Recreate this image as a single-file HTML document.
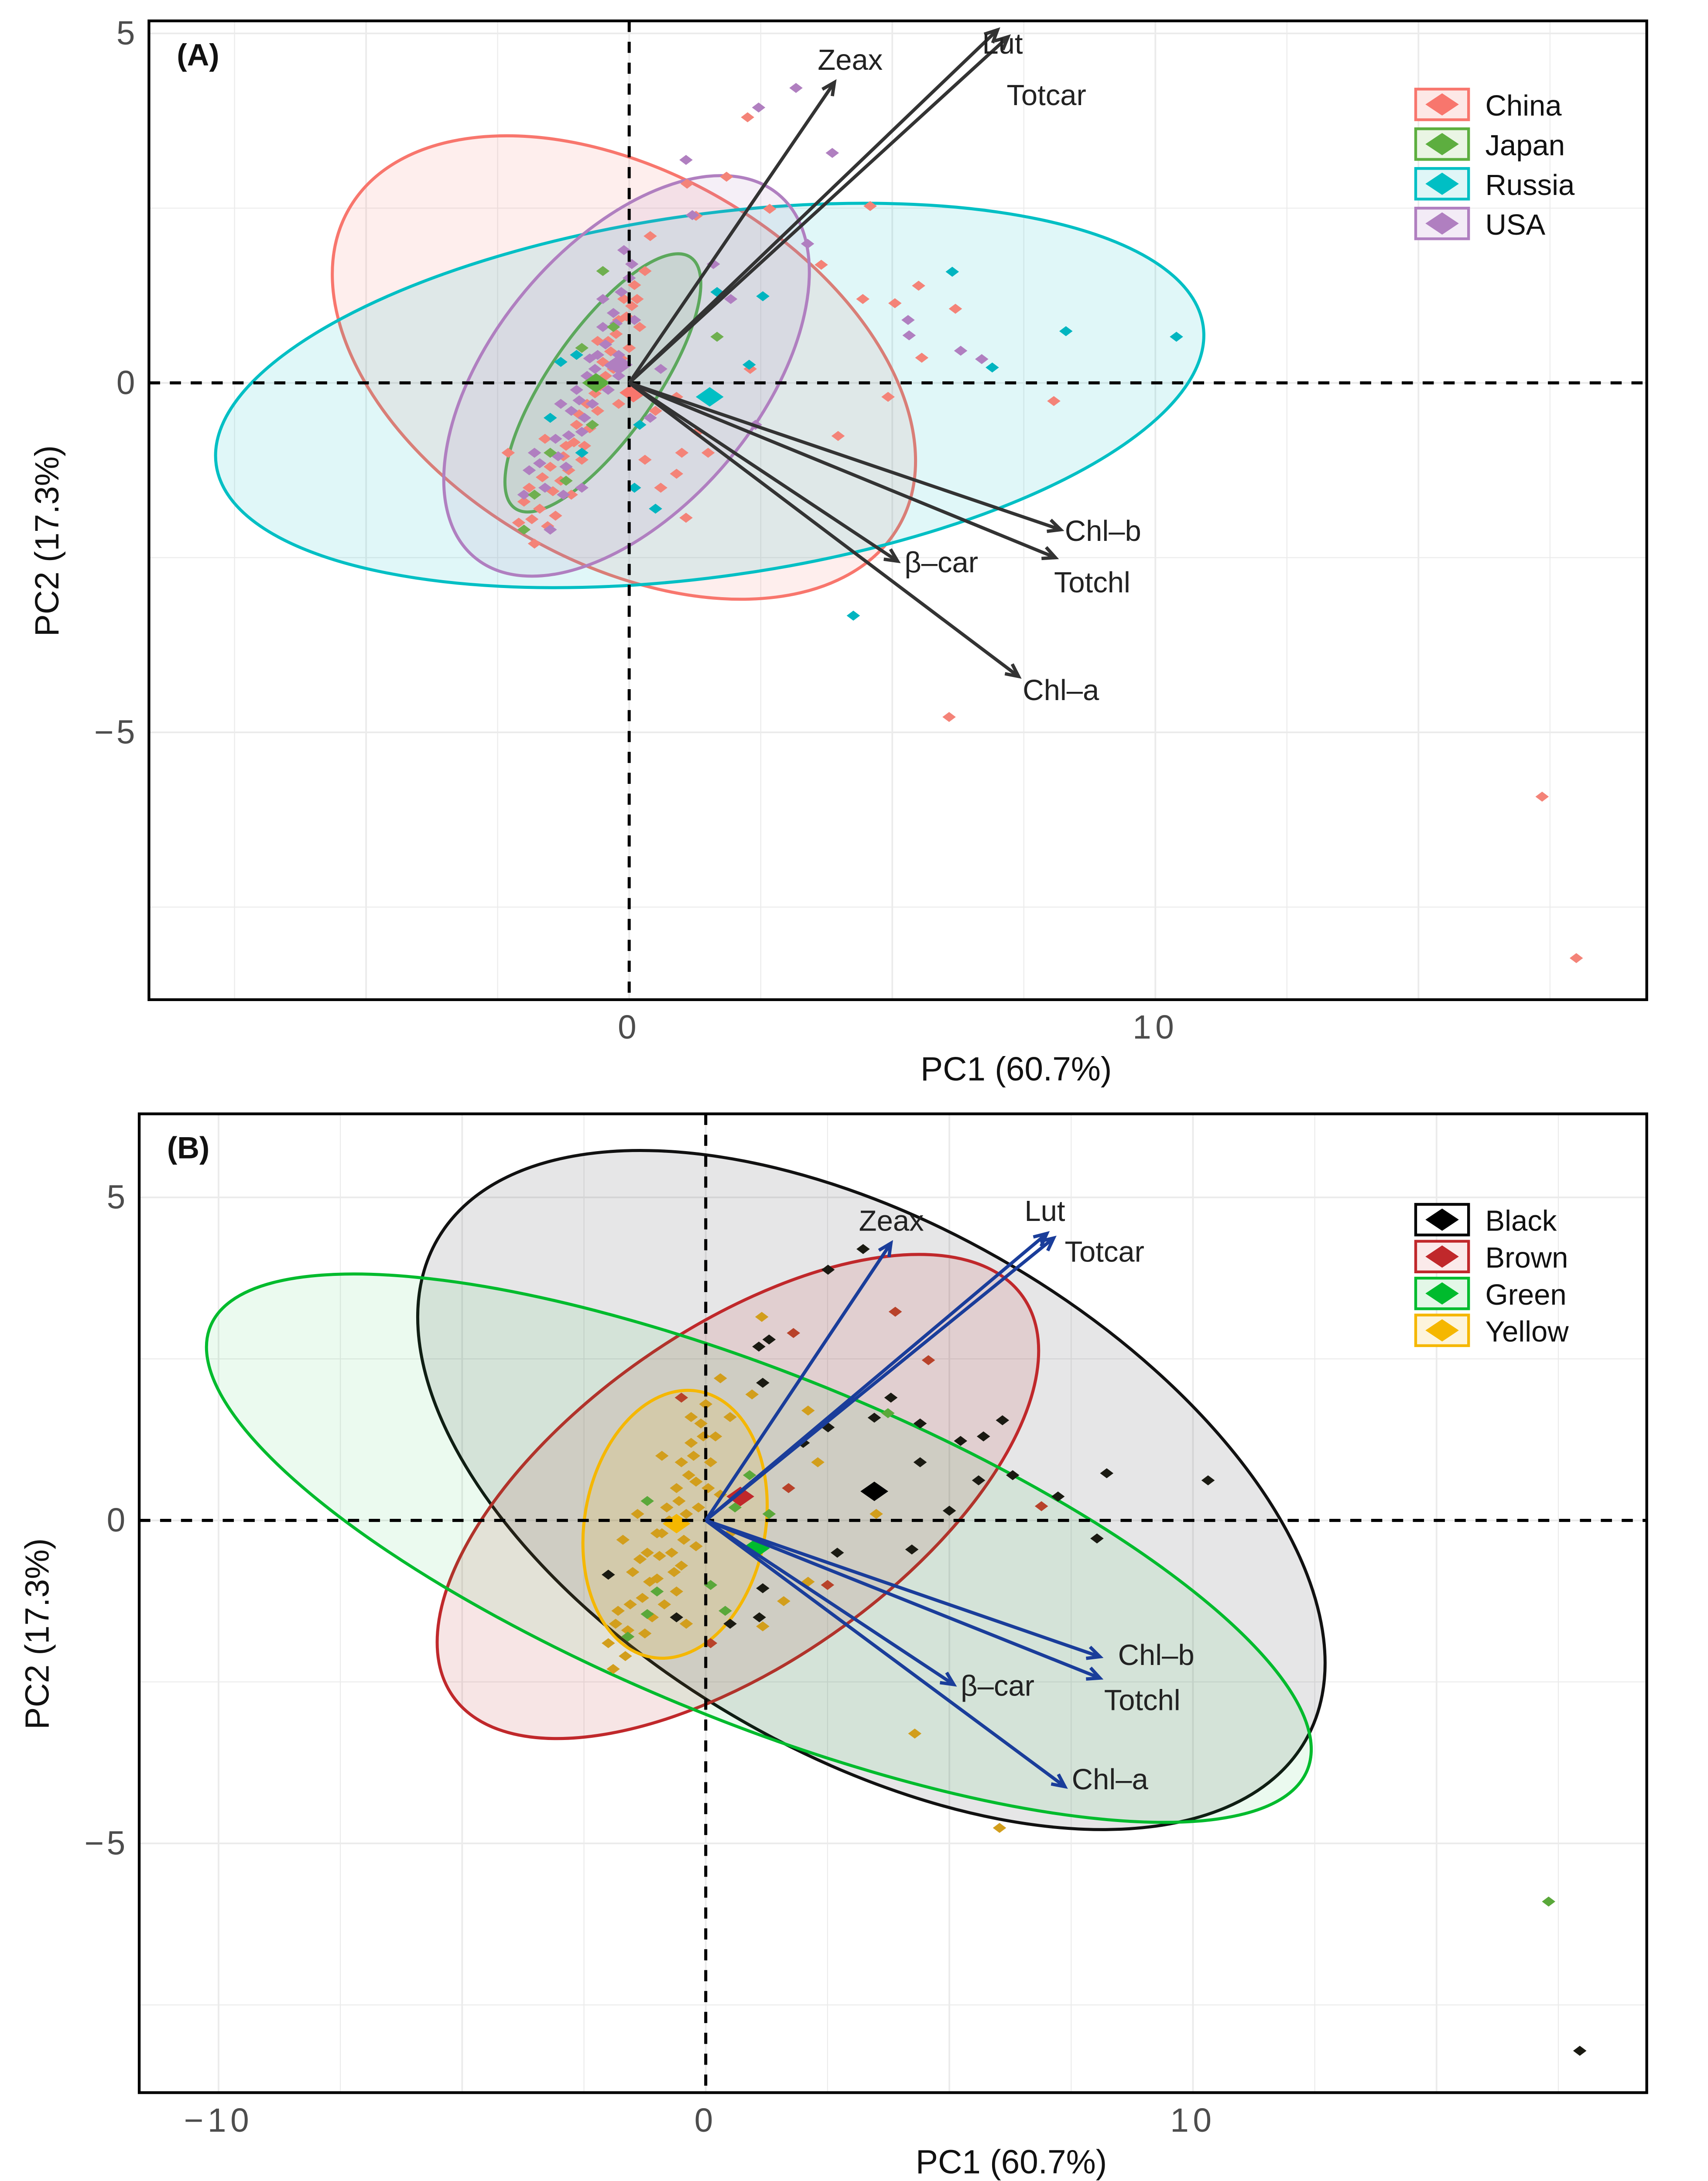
<!DOCTYPE html>
<html><head><meta charset="utf-8"><style>
html,body{margin:0;padding:0;background:#fff;width:3915px;height:5123px;overflow:hidden}
svg{display:block;position:absolute;left:0;top:0}
text{font-family:"Liberation Sans","DejaVu Sans",sans-serif}
</style></head><body>
<svg id="chart" width="3915" height="5123" viewBox="0 0 1227 1605" preserveAspectRatio="none" xmlns="http://www.w3.org/2000/svg">
<rect x="0" y="0" width="1227" height="1605" fill="#fff"/>
</svg>
<script>
// ---------- data ----------
const loadingNames = ["Zeax","Lut","Totcar","Chl–b","Totchl","β–car","Chl–a"];
const loadingPC1A = [3.9, 7.0, 7.2, 8.2, 8.1, 5.1, 7.4];
const loadingPC2A = [4.3, 5.05, 4.95, -2.1, -2.5, -2.55, -4.2];
const loadingPC1B = [3.8, 7.0, 7.14, 8.09, 8.09, 5.09, 7.37];
const loadingPC2B = [4.29, 4.44, 4.37, -2.11, -2.44, -2.54, -4.12];

const groupsA = ["China","Japan","Russia","USA"];
const chinaPts = [[2.25,3.8],[1.85,2.95],[1.1,2.85],[4.58,2.53],[1.27,2.39],[2.67,2.49],[3.65,1.69],[4.44,1.2],[5.5,1.39],[5.05,1.14],[6.2,1.06],[5.56,0.36],[4.92,-0.2],[3.97,-0.76],[8.07,-0.26],[1.08,-1.93],[6.08,-4.78],[17.35,-5.92],[18.0,-8.23],[1.0,-1.0],[1.5,-1.0],[0.9,-1.3],
[-2.1,-2.0],[-1.9,-1.5],[-1.7,-1.8],[-1.5,-1.2],[-1.3,-1.4],[-1.2,-0.9],[-1.0,-0.6],[-0.9,-1.1],[-0.8,-0.3],[-0.7,0.0],[-0.6,-0.4],[-0.5,0.3],[-0.4,0.6],[-0.3,0.2],[-0.2,0.9],[-0.1,1.2],[0.0,0.5],[0.1,1.4],[0.2,0.8],[0.3,1.6],[-1.6,-0.8],[-1.1,-1.6],[-0.6,0.6],[0.5,-0.4],[0.9,-0.2],[0.3,-1.1],[1.3,-0.7],[0.6,-1.5],[-2.3,-1.0],[-1.8,-2.3],[-1.4,-1.9],[-0.2,-0.3],[0.4,2.1],[2.3,0.2],
[-2.0,-1.7],[-1.85,-1.95],[-1.65,-1.35],[-1.45,-1.55],[-1.25,-1.05],[-1.05,-0.85],[-0.95,-0.45],[-0.75,-0.65],[-0.65,-0.15],[-0.45,0.1],[-0.35,0.45],[-0.25,0.7],[-0.05,0.95],[0.05,1.1],[-1.55,-2.05],[-1.15,-1.25],[-0.85,-0.9],[-0.55,-0.05],[-0.15,0.35],[0.15,1.2]];
const japanPts = [[1.67,0.66],[-1.5,-1.0],[-1.8,-1.6],[-0.9,0.5],[-0.7,-0.6],[-1.2,-1.4],[-0.3,0.8],[-2.0,-2.1],[-0.5,1.6]];
const russiaPts = [[8.3,0.74],[10.4,0.66],[6.9,0.22],[6.14,1.59],[4.26,-3.33],[2.28,0.26],[2.54,1.24],[1.67,1.3],[-1.3,0.3],[-0.9,-1.0],[0.2,-0.6],[0.1,-1.5],[-1.0,0.4],[0.5,-1.8],[-1.5,-0.5]];
const usaPts = [[3.17,4.22],[2.46,3.94],[3.86,3.29],[1.08,3.19],[3.39,1.99],[5.32,0.68],[6.3,0.46],[1.93,1.2],[6.7,0.34],[1.2,2.4],[2.4,-0.6],[5.3,0.9],[1.6,1.7],
[-2.0,-1.6],[-1.8,-1.0],[-1.6,-1.5],[-1.4,-0.8],[-1.2,-1.2],[-1.1,-0.4],[-0.9,-0.7],[-0.8,0.1],[-0.7,-0.3],[-0.6,0.4],[-0.5,0.8],[-0.4,-0.1],[-0.3,1.0],[-0.2,0.4],[0.0,1.5],[0.1,0.9],[-0.5,1.2],[-1.0,-0.1],[-1.5,-2.1],[0.4,-0.5],[-0.2,0.1],[0.6,0.2],[-1.3,-0.3],[-0.9,-1.5],[-0.1,1.9],
[-1.9,-1.25],[-1.7,-1.15],[-1.35,-1.05],[-1.15,-0.75],[-0.95,-0.25],[-0.85,-0.5],[-0.65,0.2],[-0.45,0.55],[-0.25,0.85],[-0.15,1.3],[0.05,1.7],[-1.25,-1.6],[-0.75,0.35],[-0.35,0.25]];
const bigA = [[0.08,-0.14,"#F8766D"],[-0.2,0.26,"#B07FC0"],[-0.63,0.0,"#5DAE3F"],[1.53,-0.2,"#00BFC4"]];

const groupsB = ["Black","Brown","Green","Yellow"];
const blackPts = [[3.23,4.2],[2.51,3.88],[1.09,2.69],[1.17,2.13],[2.51,1.44],[3.46,1.59],[4.4,1.5],[5.23,1.23],[6.09,1.55],[5.6,0.62],[4.4,0.9],[5.0,0.15],[8.23,0.73],[10.31,0.62],[7.23,0.37],[8.03,-0.28],[4.23,-0.45],[2.7,-0.5],[1.17,-1.05],[1.1,-1.5],[-2.0,-0.84],[17.94,-8.21],[5.7,1.3],[2.0,1.2],[3.8,1.9],[-0.6,-1.5],[0.5,-1.6],[6.3,0.7],[1.3,2.8]];
const brownPts = [[3.89,3.23],[4.57,2.48],[6.89,0.22],[1.8,2.9],[0.1,-1.9],[1.7,0.5],[-0.5,1.9],[2.5,-1.0]];
const greenPts = [[17.3,-5.9],[3.74,1.66],[-1.2,0.3],[-1.0,-1.1],[0.1,-1.0],[0.4,-1.4],[-1.2,-1.45],[0.9,0.7],[1.3,0.1],[-1.6,-1.8],[0.6,0.2]];
const yellowPts = [[6.03,-4.76],[4.29,-3.3],[1.17,-1.64],[2.1,-0.95],[1.6,-1.25],[1.15,3.15],[0.95,1.95],[2.1,1.7],[0.3,2.2],[0.5,1.6],[2.3,0.9],[3.5,0.1],
[-2.0,-1.9],[-1.8,-1.4],[-1.6,-1.7],[-1.5,-0.8],[-1.3,-1.2],[-1.2,-0.5],[-1.0,-0.9],[-0.9,-0.2],[-0.8,0.2],[-0.7,-0.5],[-0.6,0.5],[-0.5,0.9],[-0.4,0.1],[-0.3,1.2],[-0.2,0.6],[-0.1,1.5],[0.0,1.8],[0.1,0.9],[0.2,1.3],[-1.4,0.1],[-1.1,-1.5],[-0.6,-1.1],[-0.2,-0.4],[0.3,0.4],[-1.7,-0.3],[-0.9,1.0],[-1.9,-2.3],[-0.4,-1.6],[0.5,-0.2],
[-1.85,-1.6],[-1.55,-1.3],[-1.35,-0.6],[-1.15,-0.95],[-0.95,-0.55],[-0.85,-1.3],[-0.75,0.0],[-0.55,0.3],[-0.45,-0.3],[-0.35,0.7],[-0.25,1.0],[-0.15,0.2],[-0.05,1.3],[-0.65,-0.8],[-1.25,-1.75],[-1.65,-2.1],[-0.3,1.6],[0.05,0.5],[-1.0,-0.2],[-0.5,-0.7]];
const bigB = [[-0.6,-0.05,"#F5B700"],[0.71,0.37,"#C0282B"],[1.03,-0.43,"#00BB2D"],[3.46,0.45,"#000000"]];

// ellipse centers in PC units
const ellCxA = [-0.1,-0.5,1.53,-0.05], ellCyA = [0.22,0.0,-0.18,0.1];
const ellCxB = [3.4,0.66,1.09,-0.63], ellCyB = [0.47,0.37,-0.43,-0.06];

const xTicksA = [0,10], yTicksA = [5,0,-5];
const xTicksB = [-10,0,10], yTicksB = [5,0,-5];

// ---------- helpers ----------
const NS="http://www.w3.org/2000/svg";
const svg=document.getElementById('chart');
function mk(tag,attrs,parent){const e=document.createElementNS(NS,tag);for(const k in attrs)e.setAttribute(k,attrs[k]);(parent||svg).appendChild(e);return e;}

function panel(cfg){
  const g=mk('g',{});
  
  
  const X=v=>cfg.x0+cfg.sx*v, Y=v=>cfg.y0-cfg.sy*v;
  const clipId=cfg.name+'-clip';
  const defs=mk('defs',{},g);
  const cp=mk('clipPath',{id:clipId},defs);
  mk('rect',{x:cfg.L,y:cfg.T,width:cfg.R-cfg.L,height:cfg.B-cfg.T},cp);
  const inner=mk('g',{'clip-path':'url(#'+clipId+')'},g);
  for(let v=-15;v<=25;v+=2.5){const px=X(v);if(px>cfg.L&&px<cfg.R){const l=mk('line',{x1:px,x2:px,y1:cfg.T,y2:cfg.B,stroke:'#ebebeb','stroke-width':v%5===0?1.2:0.7},inner);}}
  for(let v=-10;v<=10;v+=2.5){const py=Y(v);if(py>cfg.T&&py<cfg.B){const l=mk('line',{x1:cfg.L,x2:cfg.R,y1:py,y2:py,stroke:'#ebebeb','stroke-width':v%5===0?1.2:0.7},inner);}}
  cfg.ells.forEach((e,i)=>{
    const el=mk('ellipse',{cx:X(cfg.ecx[i]),cy:Y(cfg.ecy[i]),rx:e.a,ry:e.b,transform:`rotate(${e.ang} ${X(cfg.ecx[i])} ${Y(cfg.ecy[i])})`,fill:e.fill,stroke:e.stroke,'stroke-width':2.2},inner);
    
    
  });
  cfg.pts.forEach(s=>{
    s.d.forEach(p=>{
      const cx=X(p[0]),cy=Y(p[1]),r=4.8;
      const d=mk('polygon',{points:`${cx},${cy-r*0.75} ${cx+r},${cy} ${cx},${cy+r*0.75} ${cx-r},${cy}`,fill:s.c},inner);
      
      
    });
  });
  cfg.big.forEach(p=>{
    const cx=X(p[0]),cy=Y(p[1]),r=10;
    const d=mk('polygon',{points:`${cx},${cy-r*0.7} ${cx+r},${cy} ${cx},${cy+r*0.7} ${cx-r},${cy}`,fill:p[2]},inner);
    
    
  });
  const z1=mk('line',{x1:X(0),x2:X(0),y1:cfg.T,y2:cfg.B,stroke:'#000','stroke-width':2.2,'stroke-dasharray':'8,7'},inner);
  
  const z2=mk('line',{x1:cfg.L,x2:cfg.R,y1:Y(0),y2:Y(0),stroke:'#000','stroke-width':2.2,'stroke-dasharray':'8,7'},inner);
  
  loadingNames.forEach((nm,i)=>{
    const x1=X(0),y1=Y(0),x2=X(cfg.lx[i]),y2=Y(cfg.ly[i]);
    const a=mk('line',{x1,y1,x2,y2,stroke:cfg.ac,'stroke-width':2.4},inner);
    
    
    const ang=Math.atan2(y2-y1,x2-x1),h=10;
    const hp=mk('polyline',{points:`${x2-h*Math.cos(ang-0.45)},${y2-h*Math.sin(ang-0.45)} ${x2},${y2} ${x2-h*Math.cos(ang+0.45)},${y2-h*Math.sin(ang+0.45)}`,fill:'none',stroke:cfg.ac,'stroke-width':2.4},inner);
    
    
    const off=cfg.lo[i];
    const t=mk('text',{x:x2+off[0],y:y2+off[1],'font-size':21,fill:'#222'},g);
    t.textContent=nm;
    
    
  });
  const fr=mk('rect',{x:cfg.L,y:cfg.T,width:cfg.R-cfg.L,height:cfg.B-cfg.T,fill:'none',stroke:'#000','stroke-width':2},g);
  
  cfg.xt.forEach(v=>{const t=mk('text',{x:X(v),y:cfg.B+28,'font-size':24,fill:'#4d4d4d','text-anchor':'middle','letter-spacing':'3'},g);t.textContent=v<0?'−'+(-v):String(v);});
  cfg.yt.forEach(v=>{const t=mk('text',{x:cfg.L-8,y:Y(v)+8,'font-size':24,fill:'#4d4d4d','text-anchor':'end','letter-spacing':'2'},g);t.textContent=v<0?'−'+(-v):String(v);});
  const xt=mk('text',{x:(cfg.L+cfg.R)/2+85,y:cfg.B+58,'font-size':24,fill:'#111','text-anchor':'middle'},g);xt.textContent='PC1 (60.7%)';
  const yt=mk('text',{x:0,y:0,'font-size':24,fill:'#111','text-anchor':'middle',transform:`translate(${cfg.L-65},${(cfg.T+cfg.B)/2+22}) rotate(-90)`},g);yt.textContent='PC2 (17.3%)';
  const pl=mk('text',{x:cfg.L+20,y:cfg.T+32,'font-size':22,'font-weight':'bold',fill:'#111'},g);pl.textContent=cfg.label;
  cfg.leg.forEach((l,i)=>{
    const y=cfg.legY+i*cfg.legDy;
    const lg=mk('g',{},g);
    
    
    mk('rect',{x:1017,y:y-11,width:38,height:22,fill:l.bg,stroke:l.stroke,'stroke-width':2},lg);
    mk('polygon',{points:`1036,${y-8} 1048,${y} 1036,${y+8} 1024,${y}`,fill:l.c},lg);
    const t=mk('text',{x:1067,y:y+8,'font-size':21,fill:'#111'},lg);t.textContent=l.n;
  });
}

panel({name:'panel-a',label:'(A)',L:107,R:1183,T:15,B:718,x0:452,sx:37.8,y0:275,sy:50.2,ac:'#333',
  lx:loadingPC1A,ly:loadingPC2A,
  ells:[{n:'china',a:228,b:140,ang:30,fill:'rgba(248,118,109,0.12)',stroke:'#F8766D'},
        {n:'japan',a:110,b:38,ang:-55,fill:'rgba(93,174,63,0.12)',stroke:'#5DAE3F'},
        {n:'russia',a:358,b:130,ang:-8,fill:'rgba(0,191,196,0.12)',stroke:'#00BFC4'},
        {n:'usa',a:170,b:95,ang:-50,fill:'rgba(176,127,192,0.12)',stroke:'#B07FC0'}],
  ecx:ellCxA,ecy:ellCyA,
  pts:[{n:'china',c:'#F48378',d:chinaPts},{n:'usa',c:'#B07FC0',d:usaPts},{n:'japan',c:'#6FAF4F',d:japanPts},{n:'russia',c:'#00B5C0',d:russiaPts}],
  big:bigA,
  lo:[[-12,-9],[-11,17],[-1,49],[3,8],[-1,25],[5,8],[3,17]],
  xt:xTicksA,yt:yTicksA,legY:75,legDy:28.5,
  leg:[{n:groupsA[0],c:'#F8766D',stroke:'#F8766D',bg:'#fde8e6'},{n:groupsA[1],c:'#5DAE3F',stroke:'#5DAE3F',bg:'#eaf5e4'},{n:groupsA[2],c:'#00BFC4',stroke:'#00BFC4',bg:'#dff6f7'},{n:groupsA[3],c:'#B07FC0',stroke:'#B07FC0',bg:'#f3ebf6'}]
});
panel({name:'panel-b',label:'(B)',L:100,R:1183,T:800,B:1503,x0:507,sx:35,y0:1092,sy:46.4,ac:'#1A3D9A',
  lx:loadingPC1B,ly:loadingPC2B,
  ells:[{n:'black',a:360,b:190,ang:30,fill:'rgba(60,60,70,0.13)',stroke:'#111'},
        {n:'brown',a:250,b:120,ang:-35,fill:'rgba(192,40,43,0.12)',stroke:'#C0282B'},
        {n:'green',a:425,b:125,ang:22,fill:'rgba(0,187,45,0.08)',stroke:'#00BB2D'},
        {n:'yellow',a:97,b:65,ang:-80,fill:'rgba(245,183,0,0.12)',stroke:'#F5B700'}],
  ecx:ellCxB,ecy:ellCyB,
  pts:[{n:'yellow',c:'#D29E1C',d:yellowPts},{n:'black',c:'#1a1a12',d:blackPts},{n:'brown',c:'#B8422A',d:brownPts},{n:'green',c:'#5AA83A',d:greenPts}],
  big:bigB,
  lo:[[-23,-9],[-16,-9],[8,17],[13,6],[3,23],[5,8],[5,2]],
  xt:xTicksB,yt:yTicksB,legY:876,legDy:26.5,
  leg:[{n:groupsB[0],c:'#000',stroke:'#000',bg:'#fff'},{n:groupsB[1],c:'#C0282B',stroke:'#C0282B',bg:'#fbeaea'},{n:groupsB[2],c:'#00BB2D',stroke:'#00BB2D',bg:'#e3f7e7'},{n:groupsB[3],c:'#F5B700',stroke:'#F5B700',bg:'#fdf4dc'}]
});
</script>
</body></html>
